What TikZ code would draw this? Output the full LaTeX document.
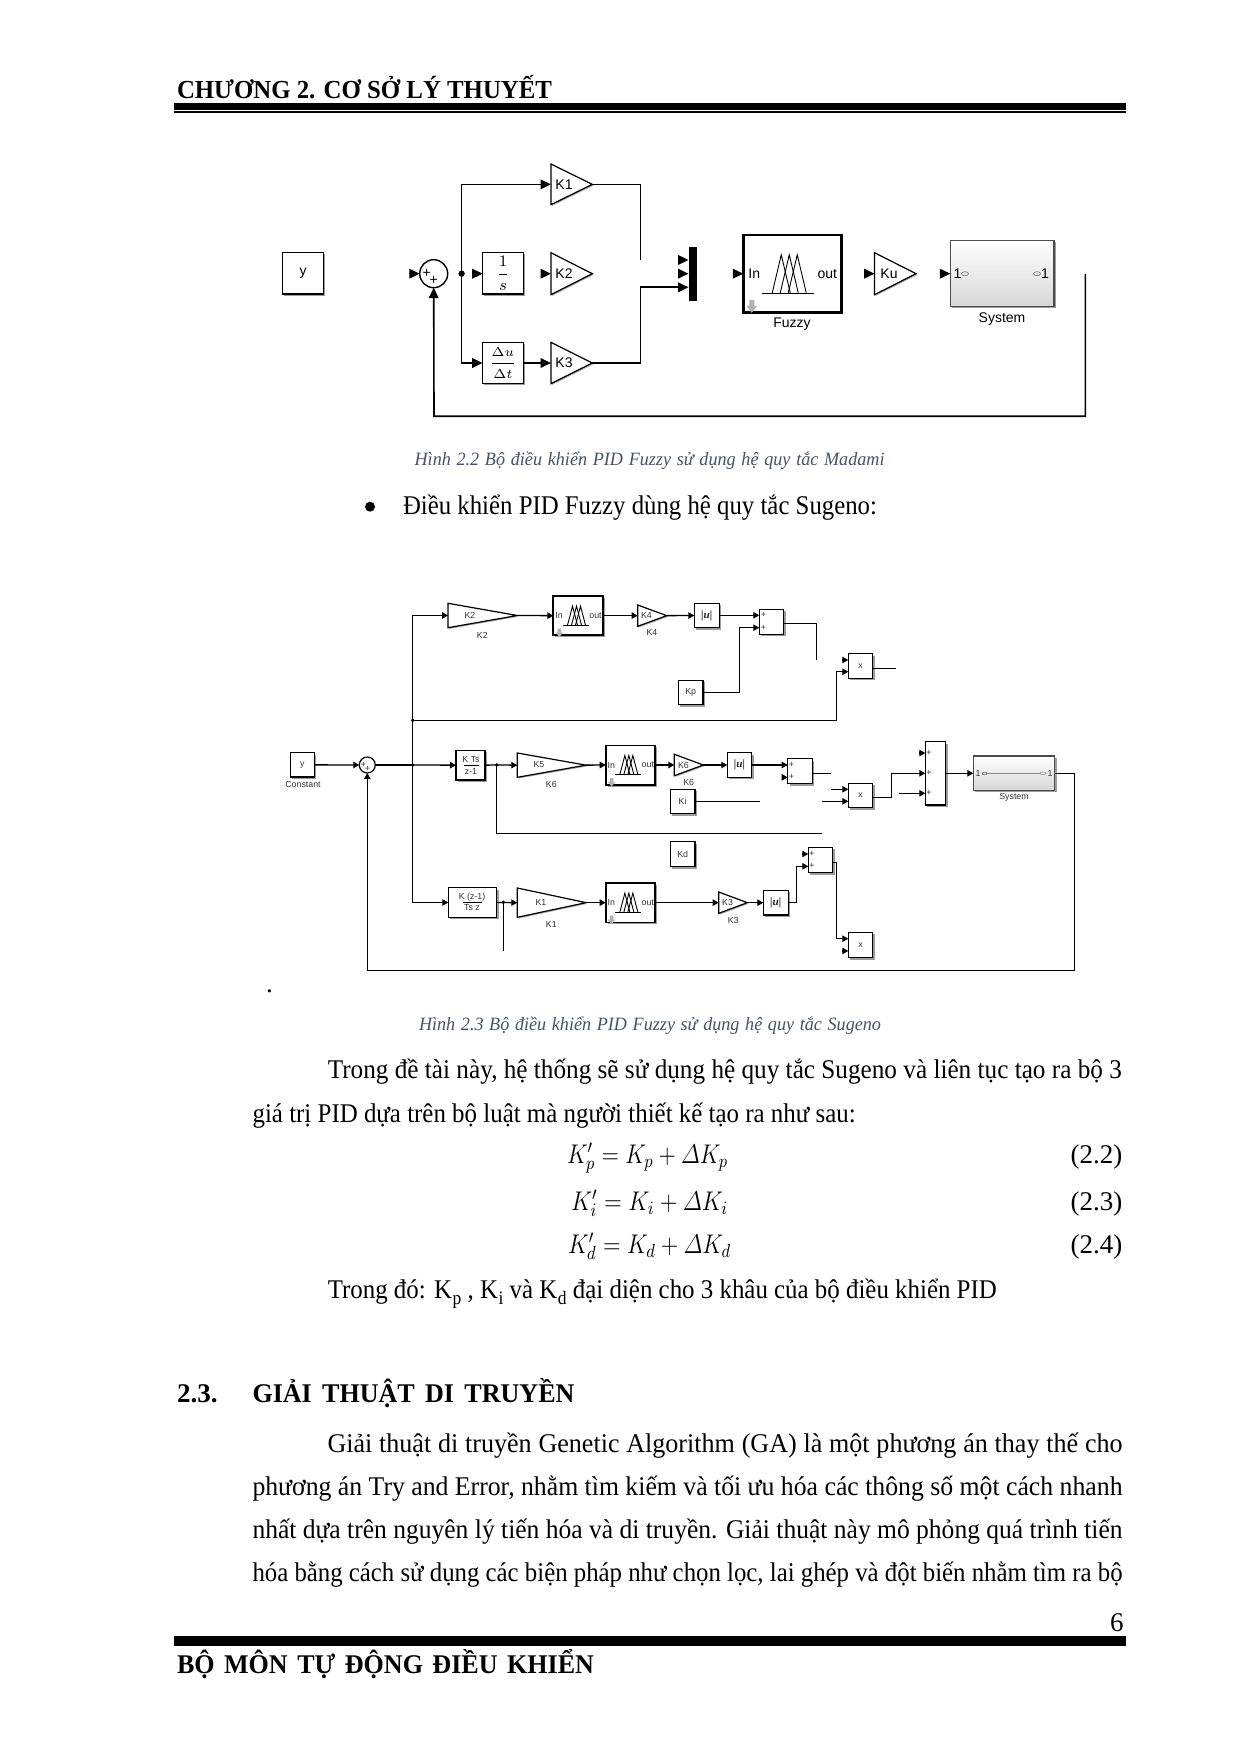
\documentclass[tikz,border=0pt]{standalone}
\usepackage{fix-cm}
\usepackage{graphicx}
\usepackage{fontspec}
\setmainfont{Liberation Serif}
\newfontfamily\blkfont{Liberation Sans}
\usetikzlibrary{arrows.meta,shadows,calc}
\definecolor{capcol}{HTML}{44546A}
\tikzset{
  txt/.style={anchor=base west,inner sep=0pt,outer sep=0pt,align=left},
  blockbase/.style={draw,fill=white,inner sep=0pt,outer sep=0pt,line width=.6pt,
    drop shadow={shadow xshift=.9pt,shadow yshift=-.9pt,fill=black!55,opacity=.7}},
  noshape/.style={inner sep=0pt,outer sep=0pt},
  wireA/.style={line width=.8pt,-{Triangle[length=5.2pt,width=4.8pt]}},
  wireAn/.style={line width=.8pt},
  wireB/.style={line width=.65pt,-{Triangle[length=3pt,width=3.2pt]}},
  wireBn/.style={line width=.65pt},
  dotA/.style={circle,fill=black,inner sep=0pt,minimum size=3.2pt},
  dotB/.style={circle,fill=black,inner sep=0pt,minimum size=1.9pt},
  labA/.style={font=\blkfont\fontsize{7}{8}\selectfont,inner sep=0pt},
  labB/.style={font=\blkfont\fontsize{4.4}{5}\selectfont,inner sep=0pt,text=black!80},
  labBm/.style={font=\bfseries\itshape\fontsize{5.6}{6}\selectfont,inner sep=0pt,text=black!85},
  body/.style={txt,font=\fontsize{13.5}{15}\selectfont},
  bold/.style={txt,font=\fontsize{13.5}{15}\bfseries\selectfont},
  capt/.style={txt,font=\fontsize{9.4}{11}\itshape\selectfont,text=capcol},
}
\newlength\fitl
\newcommand{\fitw}[2]{\sbox0{#2}\setlength\fitl{#1pt}\setlength\fitl{1.036\fitl}%
  \ifdim\wd0>\fitl\setlength\fitl{\wd0}\fi\resizebox{#1pt}{\height}{\makebox[\fitl][s]{#2}}}
\newcommand{\blk}[6][]{%
  \pgfmathsetmacro\cx{(#3+#5)/2}\pgfmathsetmacro\cy{(#4+#6)/2}%
  \pgfmathsetmacro\ww{(#5-#3)*0.5}\pgfmathsetmacro\hh{(#6-#4)*0.5}%
  \node[blockbase,minimum width=\ww pt,minimum height=\hh pt,#1] (#2) at (\cx,\cy) {};}
\newcommand{\gain}[6][]{%
  \pgfmathsetmacro\cx{(#3+#5)/2}\pgfmathsetmacro\cy{(#4+#6)/2}%
  \pgfmathsetmacro\ww{(#5-#3)*0.5}\pgfmathsetmacro\hh{(#6-#4)*0.5}%
  \node[noshape,minimum width=\ww pt,minimum height=\hh pt] (#2) at (\cx,\cy) {};
  \draw[line width=.6pt,fill=white,#1,drop shadow={shadow xshift=.6pt,shadow yshift=-.6pt,fill=black!55,opacity=.6}]
    (#2.north west) -- (#2.east) -- (#2.south west) -- cycle;}
\newcommand{\stub}[4]{% name x y style
  \coordinate (#1) at (#2,#3);
  \draw[#4] ([xshift=-5.2pt]#1) -- (#1);}
\newcommand{\stubb}[3]{% name x y
  \coordinate (#1) at (#2,#3);
  \draw[wireB] ([xshift=-3pt]#1) -- (#1);}
\newcommand{\fuzzy}[3]{%
  \begin{scope}[shift={(#1.center)},scale=#2]
    \foreach \p in {-11,-3,5}{\draw[line width=.45pt] (\p-9,19) -- (\p,-19) -- (\p+9,19);}
    \draw[line width=.6pt] (-30,19.5) -- (22,19.5);
    \fill[black!30] (-43,26) rectangle (-38,32) (-46,32) -- (-35,32) -- (-40.5,39) -- cycle;
    \node[#3] (#1-in) at (-38,0) {In};
    \node[#3] (#1-out) at (35,0) {out};
  \end{scope}}
\newcommand{\fuzzyB}[3]{%
  \begin{scope}[shift={(#1.center)},scale=#2]
    \foreach \p in {-11,-3,5}{\draw[line width=.45pt] (\p-10,19) -- (\p,-19) -- (\p+10,19);}
    \draw[line width=.6pt] (-30,19.5) -- (22,19.5);
    \fill[black!30] (-41,26) rectangle (-34,34) (-45,34) -- (-30,34) -- (-37.5,43) -- cycle;
    \node[#3] (#1-in) at (-38,0) {In};
    \node[#3] (#1-out) at (35,0) {out};
  \end{scope}}
\newcommand{\sbs}[1]{\kern.3pt\raisebox{-3.4pt}{\fontsize{9.5}{10}\selectfont #1}}
\begin{document}
\begin{tikzpicture}[x=0.5pt,y=-0.5pt]
\useasboundingbox[fill=white] (0,0) rectangle (1240,1754);
% ---- header / footer
\node[txt,font=\fontsize{13}{14}\bfseries\selectfont] (hd) at (177,98.5) {\fitw{187.5}{CHƯƠNG 2. CƠ SỞ LÝ THUYẾT}};
\fill (174,102.7) rectangle (1126,110);
\fill (174,111.2) rectangle (1126,113.3);
\node[body] (pg) at (1110,1631) {6};
\fill (174,1636) rectangle (1126,1646);
\node[bold] (ft) at (177,1673) {\fitw{208.5}{BỘ MÔN TỰ ĐỘNG ĐIỀU KHIỂN}};
% ---- text
\node[capt] (cap22) at (414.6,465.5) {\fitw{235}{Hình 2.2 Bộ điều khiển PID Fuzzy sử dụng hệ quy tắc Madami}};
\node[circle,fill=black,inner sep=0pt,minimum size=5pt] (bul) at (370,506.7) {};
\node[body] (bt) at (403,514.5) {\fitw{237}{Điều khiển PID Fuzzy dùng hệ quy tắc Sugeno:}};
\node[body] (dt) at (266,992) {.};
\node[capt] (cap23) at (419,1030) {\fitw{231}{Hình 2.3 Bộ điều khiển PID Fuzzy sử dụng hệ quy tắc Sugeno}};
\node[body] (p1) at (327.8,1078) {\fitw{397}{Trong đề tài này, hệ thống sẽ sử dụng hệ quy tắc Sugeno và liên tục tạo ra bộ 3}};
\node[body] (p2) at (252.6,1122) {\fitw{301.5}{giá trị PID dựa trên bộ luật mà người thiết kế tạo ra như sau:}};
\node[body] (e1) at (567,1163) {\resizebox{80.5pt}{\height}{$K'_p=K_p+\mathnormal{\Delta}K_p$}};
\node[body] (e2) at (571,1210) {\resizebox{78.5pt}{\height}{$K'_i=K_i+\mathnormal{\Delta}K_i$}};
\node[body] (e3) at (568,1253) {\resizebox{81.5pt}{\height}{$K'_d=K_d+\mathnormal{\Delta}K_d$}};
\node[body] (n1) at (1070.6,1163) {(2.2)};
\node[body] (n2) at (1070.6,1210) {(2.3)};
\node[body] (n3) at (1070.6,1253) {(2.4)};
\node[body] (p3) at (327.8,1298) {\fitw{334.5}{Trong đó: K\sbs{p} , K\sbs{i} và K\sbs{d} đại diện cho 3 khâu của bộ điều khiển PID}};
\node[bold] (s1) at (177,1402) {2.3.};
\node[bold] (s2) at (252.5,1402) {\fitw{161}{GIẢI THUẬT DI TRUYỀN}};
\node[body] (p4) at (327.5,1452) {\fitw{397.5}{Giải thuật di truyền Genetic Algorithm (GA) là một phương án thay thế cho}};
\node[body] (p5) at (252.5,1495) {\fitw{435}{phương án Try and Error, nhằm tìm kiếm và tối ưu hóa các thông số một cách nhanh}};
\node[body] (p6) at (252.5,1538) {\fitw{435}{nhất dựa trên nguyên lý tiến hóa và di truyền. Giải thuật này mô phỏng quá trình tiến}};
\node[body] (p7) at (252.5,1581) {\fitw{435}{hóa bằng cách sử dụng các biện pháp như chọn lọc, lai ghép và đột biến nhằm tìm ra bộ}};

% ==== Diagram 1 ====
\blk{ya}{282.6}{252.7}{323.4}{294}
\node[labA] (ya-t) at (ya.center) {y};
\node[draw,circle,fill=white,minimum size=14pt,inner sep=0pt,outer sep=0pt,line width=.7pt] (suma) at (433.7,273.7) {};
\node[labA] (suma-p) at (426.7,273) {+};
\node[labA] (suma-q) at (433.7,280.5) {+};
\stub{suma-in}{419.7}{273.7}{wireA}
\node[dotA] (dota) at (461.6,273.7) {};
\blk{inta}{482.6}{252.7}{523.4}{294}
\node[noshape,font=\fontsize{8}{9}\selectfont] (inta-t) at (inta.center) {$\displaystyle\frac{1}{s}$};
\blk{dera}{482.6}{342.3}{523.4}{383.7}
\node[noshape,font=\fontsize{6.5}{8}\selectfont] (dera-t) at (dera.center) {$\displaystyle\frac{\Delta u}{\Delta t}$};
\gain{k1a}{550.9}{164}{592.3}{204.7}
\gain{k2a}{550.9}{252.7}{592.3}{294.7}
\gain{k3a}{550.9}{342.3}{592.3}{383.7}
\node[labA] (k1a-t) at (564,184.3) {K1};
\node[labA] (k2a-t) at (564,273.7) {K2};
\node[labA] (k3a-t) at (564,363) {K3};
\draw[wireA] (dota.center) |- (k1a.west);
\draw[wireA] (dota.center) |- (dera.west);
\stub{inta-in}{482.6}{273.7}{wireA}
\stub{k2a-in}{550.9}{273.7}{wireA}
\draw[wireA] (dera.east) -- (k3a.west);
\node[noshape,fill=black,minimum width=4pt,minimum height=26.9pt] (mux) at (692.5,273.8) {};
\coordinate (k1end) at (640.6,260);
\stub{mux-a}{688.5}{260}{wireA}
\stub{mux-b}{688.5}{273.7}{wireA}
\coordinate (mux-c) at (688.5,287.3);
\draw[wireAn] (k1a.east) -| (k1end);
\draw[wireA] (k3a.east) -| (640.6,287.3) -- (mux-c);
\blk[line width=1.3pt]{fza}{743.3}{235}{841.2}{312.7}
\fuzzy{fza}{1}{labA}
\node[labA] (fza-l) at (792,324) {Fuzzy};
\stub{fza-i}{743.3}{273.7}{wireA}
\gain{kua}{874.5}{252.7}{916}{294.7}
\node[labA] (kua-t) at (889,273.7) {Ku};
\stub{kua-i}{874.5}{273.7}{wireA}
\blk[top color=white,bottom color=black!16,draw=black!70]{sysa}{950.3}{240.7}{1054}{306.7}
\node[labA] (sysa-l) at (1002,319) {System};
\node[labA] (sysa-1) at (957.5,273.7) {1};
\node[labA] (sysa-2) at (1045,273.7) {1};
\draw[black!55,line width=.3pt] (965,273.7) ellipse (3.5 and 2);
\draw[black!55,line width=.3pt] (1037,273.7) ellipse (3.5 and 2);
\stub{sysa-i}{950.3}{273.7}{wireA}
\coordinate (fba) at (1085.3,274);
\draw[wireA] (fba) |- (434,416.3) -- (suma.south);

% ==== Diagram 2 ====
\blk{yb}{290.3}{752.7}{314.3}{777}
\node[labB] (yb-t) at (yb.center) {y};
\node[labB] (yb-l) at (303,784) {Constant};
\node[draw,circle,fill=white,minimum size=8pt,inner sep=0pt,outer sep=0pt,line width=.6pt] (sumb) at (367.3,765) {};
\node[labB] (sumb-p) at (363.5,765) {+};
\node[labB] (sumb-q) at (367.5,769) {+};
\node[dotB] (dj1) at (412.7,765) {};
\node[dotB] (dj2) at (412.7,720.3) {};
% row 1
\gain{k2b}{448}{603.3}{517.3}{627.7}
\node[labB] (k2b-t) at (470,615) {K2};
\node[labB] (k2b-l) at (482.3,635) {K2};
\blk[line width=.9pt]{fz1}{553.3}{596}{602.7}{635.3}
\fuzzyB{fz1}{.5}{labB}
\gain{k4b}{637.7}{605}{666.7}{626.3}
\node[labB] (k4b-t) at (646.5,615.3) {K4};
\node[labB] (k4b-l) at (652,632.7) {K4};
\blk{ab1}{694.3}{603.3}{719.3}{627.7}
\node[labBm] (ab1-t) at (ab1.center) {|u|};
\blk{s1b}{759.3}{609.3}{783.7}{634.3}
\coordinate (s1b-a) at (759.3,615.3);
\coordinate (s1b-b) at (759.3,627.7);
\node[labB] at (763.5,615.3) (s1b-p) {+};
\node[labB] at (763.5,627.7) (s1b-q) {+};
\blk{kp}{678.3}{680.3}{703}{704.7}
\node[labB] (kp-t) at (kp.center) {Kp};
\blk{pr1}{848.3}{653.7}{872.7}{678.3}
\node[labB] (pr1-t) at (pr1.center) {x};
\stubb{pr1-a}{848.3}{660}
\coordinate (pr1-b) at (848.3,671.7);
\coordinate (s1end) at (816.3,660);
\coordinate (pr1o) at (896,668.3);
% row 2
\blk{kts}{456}{750.3}{485}{780}
\node[labB] (kts-a) at (471,760) {K Ts};
\draw[line width=.35pt] (463.5,765) -- (478.5,765);
\node[labB] (kts-b) at (471,771) {z-1};
\node[dotB] (dj3) at (496.7,765) {};
\gain{k5b}{517.3}{753}{586}{777.3}
\node[labB] (k5b-t) at (539,765) {K5};
\node[labB] (k5b-l) at (551.3,784) {K6};
\blk[line width=.8pt]{fz2}{605.7}{745.3}{655}{784.7}
\fuzzyB{fz2}{.5}{labB}
\gain{k6b}{674.3}{754.3}{703.3}{775.7}
\node[labB] (k6b-t) at (683.5,765) {K6};
\node[labB] (k6b-l) at (688.7,782.3) {K6};
\blk{ab2}{727.3}{752.7}{751.7}{777.3}
\node[labBm] (ab2-t) at (ab2.center) {|u|};
\blk{s2b}{787.7}{758.7}{812.3}{783.7}
\coordinate (s2b-a) at (787.7,765);
\stubb{s2b-b}{787.7}{777.3}
\node[labB] at (791.5,765) (s2b-p) {+};
\node[labB] at (791.5,777.3) (s2b-q) {+};
\coordinate (s2end) at (831,773.3);
\blk{ki}{670.3}{789.3}{695}{813.7}
\node[labB] (ki-t) at (ki.center) {Ki};
\coordinate (kiend) at (760,801.3);
\blk{pr2}{848.3}{783.3}{872.7}{807.7}
\node[labB] (pr2-t) at (pr2.center) {x};
\coordinate (pr2-a) at (848.3,789.3);
\coordinate (pr2-b) at (848.3,801.3);
\coordinate (pr2sa) at (831,789.3);
\coordinate (pr2sb) at (822,801.3);
\blk{bs}{925.3}{741.7}{945.7}{805}
\stubb{bs-a}{925.3}{753}
\coordinate (bs-b) at (925.3,773.3);
\coordinate (bs-c) at (925.3,793.3);
\coordinate (bsst) at (899,793.3);
\node[labB] at (929,753) (bs-p) {+};
\node[labB] at (929,773.3) (bs-q) {+};
\node[labB] at (929,793.3) (bs-r) {+};
\blk[top color=white,bottom color=black!16,draw=black!70]{sysb}{973.3}{756}{1054.7}{790.3}
\node[labB] (sysb-l) at (1014,797.3) {System};
\node[labB] (sysb-1) at (978,773.3) {1};
\node[labB] (sysb-2) at (1050,773.3) {1};
\draw[black!45,line width=.25pt] (982,772.3) rectangle (986,774.3);
\draw[black!45,line width=.25pt] (986,773.3) -- (1040,773.3);
\draw[black!45,line width=.25pt] (1043,773.3) ellipse (3 and 1.3);
\blk{kd}{670.3}{841.7}{695}{866.7}
\node[labB] (kd-t) at (kd.center) {Kd};
\coordinate (lgend) at (822,833.3);
% row 3
\blk{kz}{448.3}{887.7}{496.7}{917.3}
\node[labB] (kz-a) at (472,897) {K (z-1)};
\draw[line width=.35pt] (463,902.3) -- (482,902.3);
\node[labB] (kz-b) at (472,908) {Ts z};
\node[dotB] (dj4) at (503.3,902.3) {};
\coordinate (dj4end) at (503.3,950.7);
\gain{k1b}{517.3}{888}{586}{917.3}
\node[labB] (k1b-t) at (541,902.3) {K1};
\node[labB] (k1b-l) at (551.3,924) {K1};
\blk[line width=.8pt]{fz3}{605.7}{883}{655}{922.3}
\fuzzyB{fz3}{.5}{labB}
\gain{k3b}{718.7}{892}{747.3}{913.3}
\node[labB] (k3b-t) at (727.5,902.3) {K3};
\node[labB] (k3b-l) at (733.3,920) {K3};
\blk{ab3}{763.3}{890.3}{788.3}{915}
\node[labBm] (ab3-t) at (ab3.center) {|u|};
\blk{s3b}{808.3}{847.3}{832.7}{872.7}
\stubb{s3b-a}{808.3}{854}
\coordinate (s3b-b) at (808.3,866.3);
\node[labB] at (812,854) (s3b-p) {+};
\node[labB] at (812,866.3) (s3b-q) {+};
\blk{pr3}{848.3}{932.3}{872.7}{957.7}
\node[labB] (pr3-t) at (pr3.center) {x};
\coordinate (pr3-a) at (848.3,938.7);
\stubb{pr3-b}{848.3}{951}
% wires
\draw[wireB] (yb.east) -- (sumb.west);
\draw[wireBn] (sumb.east) -- (dj1.center);
\draw[wireB] (dj1.center) -- (kts.west);
\draw[wireB] (dj1.center) |- (k2b.west);
\draw[wireB] (dj1.center) |- (kz.west);
\draw[wireB] (k2b.east) -- (fz1.west);
\draw[wireB] (fz1.east) -- (k4b.west);
\draw[wireB] (k4b.east) -- (ab1.west);
\draw[wireB] (ab1.east |- s1b-a) -- (s1b-a);
\draw[wireB] (kp.east) -| (739.3,627.7) -- (s1b-b);
\draw[wireBn] (783.7,623.3) -| (s1end);
\draw[wireB] (dj2.center) -| (836.7,671.7) -- (pr1-b);
\draw[wireBn] (872.7,668.3) -- (pr1o);
\draw[wireBn] (kts.east) -- (dj3.center);
\draw[wireB] (dj3.center) -- (k5b.west);
\draw[wireB] (k5b.east) -- (fz2.west);
\draw[wireB] (fz2.east) -- (k6b.west);
\draw[wireB] (k6b.east) -- (ab2.west);
\draw[wireB] (ab2.east) -- (s2b-a);
\draw[wireBn] (812.3,773.3) -- (s2end);
\draw[wireBn] (ki.east |- kiend) -- (kiend);
\draw[wireB] (pr2sa) -- (pr2-a);
\draw[wireB] (pr2sb) -- (pr2-b);
\draw[wireB] (872.7,797.3) -| (891.3,773.3) -- (bs-b);
\draw[wireB] (bsst) -- (bs-c);
\draw[wireB] (945.7,773.3) -- (973.3,773.3);
\draw[wireBn] (dj3.center) |- (lgend);
\draw[wireB] (kz.east) -- (k1b.west);
\draw[wireBn] (dj4.center) -- (dj4end);
\draw[wireB] (fz3.east) -- (k3b.west);
\draw[wireB] (k1b.east) -- (fz3.west);
\draw[wireB] (k3b.east) -- (ab3.west);
\draw[wireB] (ab3.east) -| (796.7,866.3) -- (s3b-b);
\draw[wireB] (832.7,862.3) -| (836.7,938.7) -- (pr3-a);
\draw[wireB] (1054.7,773.3) -| (1074.7,970.3) -| (sumb.south);
\end{tikzpicture}
\end{document}
